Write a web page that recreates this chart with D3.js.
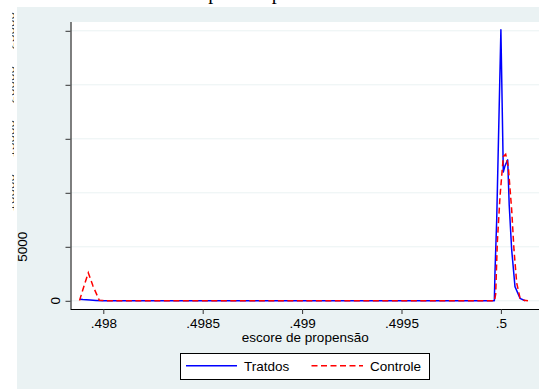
<!DOCTYPE html>
<html>
<head>
<meta charset="utf-8">
<script src="https://cdn.jsdelivr.net/npm/d3@7"></script>
<style>
  html, body { margin: 0; padding: 0; background: #ffffff; }
  svg { display: block; }
  text { font-family: "Liberation Sans", Arial, sans-serif; fill: #000; }
</style>
</head>
<body>
<svg id="chart" width="539" height="389"></svg>
<script>
// Kernel density of the propensity score, treated vs. control
const chartTitle = "Depois do pareamento";
const xLabel = "escore de propensão";
const seriesNames = ["Tratdos", "Controle"];

const xTicks = [0.498, 0.4985, 0.499, 0.4995, 0.5];
const xTickLabels = [".498", ".4985", ".499", ".4995", ".5"];
const yTicks = [0, 5000, 10000, 15000, 20000, 25000];
const yTickLabels = ["0", "5000", "10000", "15000", "20000", "25000"];

// Tratdos (treated) density
const tratX = [0.4978828, 0.4978971, 0.4979331, 0.4979633, 0.4979985, 0.4980438,
               0.4999670, 0.4999703, 0.4999789, 0.5000000, 0.5000121, 0.5000207,
               0.5000342, 0.5000418, 0.5000543, 0.5000709, 0.5000961, 0.5001212];
const tratY = [140, 110, 65, 37, 9, 0,
               0, 2670, 7490, 25100, 11930, 12490,
               13050, 8880, 4710, 1310, 230, 9];

// Controle (control) density
const ctrlX = [0.4978803, 0.4979029, 0.4979245, 0.4979482, 0.4979799, 0.4980136,
               0.4999680, 0.4999738, 0.4999819, 0.4999955, 0.5000121, 0.5000241,
               0.5000372, 0.5000543, 0.5000659, 0.5000795, 0.5000961, 0.5001162, 0.5001363];
const ctrlY = [20, 1370, 2600, 1370, 46, 0,
               0, 630, 5360, 9650, 13350, 13570,
               12430, 8410, 4710, 1650, 260, 46, 0];

const W = 539, H = 389;
const svg = d3.select("#chart");

// graph region background
svg.append("rect").attr("x", 0).attr("y", 0).attr("width", W).attr("height", H).attr("fill", "#ffffff");
svg.append("rect").attr("x", 17).attr("y", 7).attr("width", W - 17).attr("height", H - 7).attr("fill", "#eaf2f3");

// title (sits mostly above the visible area)
svg.append("text")
  .attr("x", 275).attr("y", -1)
  .attr("text-anchor", "middle")
  .style("font-family", "'Liberation Serif', 'Times New Roman', serif")
  .style("font-size", "20px")
  .text(chartTitle);

const plot = { left: 70.5, right: 540, top: 22, bottom: 309 };

const x = d3.scaleLinear().domain([0.497835, 0.5001967]).range([plot.left, plot.right]);
const y = d3.scaleLinear().domain([0, 25000]).range([300.8, 30.8]);

// plot region
svg.append("rect")
  .attr("x", plot.left).attr("y", plot.top)
  .attr("width", plot.right - plot.left).attr("height", plot.bottom - plot.top)
  .attr("fill", "#ffffff");

// horizontal grid lines
svg.append("g").selectAll("line").data(yTicks).join("line")
  .attr("x1", plot.left).attr("x2", plot.right)
  .attr("y1", d => y(d)).attr("y2", d => y(d))
  .attr("stroke", "#eaf2f3").attr("stroke-width", 1);

const clipId = "plotClip";
svg.append("clipPath").attr("id", clipId)
  .append("rect").attr("x", plot.left).attr("y", plot.top)
  .attr("width", plot.right - plot.left).attr("height", plot.bottom - plot.top);

const line = d3.line().x(d => x(d[0])).y(d => y(d[1])).curve(d3.curveLinear);

const tratPts = tratX.map((v, i) => [v, tratY[i]]);
const ctrlPts = ctrlX.map((v, i) => [v, ctrlY[i]]);

const lines = svg.append("g").attr("clip-path", `url(#${clipId})`);
lines.append("path").datum(tratPts)
  .attr("d", line).attr("fill", "none")
  .attr("stroke", "#0000ff").attr("stroke-width", 1.5)
  .attr("stroke-linejoin", "round");
lines.append("path").datum(ctrlPts)
  .attr("d", line).attr("fill", "none")
  .attr("stroke", "#ff0000").attr("stroke-width", 1.5)
  .attr("stroke-dasharray", "6,3.5");

// x axis
const xAxis = d3.axisBottom(x).tickValues(xTicks)
  .tickFormat((d, i) => xTickLabels[i]).tickSize(5).tickPadding(4);
const gx = svg.append("g").attr("transform", `translate(0,${plot.bottom})`).call(xAxis);
gx.select(".domain").attr("d", `M${plot.left},0.5H${plot.right}`).attr("stroke", "#000");
gx.selectAll(".tick line").attr("stroke", "#333");
gx.selectAll(".tick text")
  .style("font-family", "'Liberation Sans', Arial, sans-serif")
  .style("font-size", "13.5px").attr("fill", "#000");

// y axis
const yAxis = d3.axisLeft(y).tickValues(yTicks).tickFormat("").tickSize(5);
const gy = svg.append("g").attr("transform", `translate(${plot.left},0)`).call(yAxis);
gy.select(".domain").attr("d", `M0.5,${plot.top}V${plot.bottom}`).attr("stroke", "#000");
gy.selectAll(".tick line").attr("stroke", "#333");

// y tick labels, rotated; the longer labels run out past the left edge
svg.append("clipPath").attr("id", "edgeClip")
  .append("rect").attr("x", 12.4).attr("y", 0).attr("width", 1.4).attr("height", H);

const baseX = { "0": 59.5, "5000": 26.5 };
yTicks.forEach((t, i) => {
  const lab = yTickLabels[i];
  const bx = baseX[lab] !== undefined ? baseX[lab] : 14.6;
  const txt = svg.append("text")
    .attr("transform", `translate(${bx},${y(t)}) rotate(-90)`)
    .attr("text-anchor", "middle")
    .style("font-size", "13.5px")
    .text(lab);
  if (baseX[lab] === undefined) {
    txt.attr("clip-path", null);
    const g = svg.append("g").attr("clip-path", "url(#edgeClip)");
    g.node().appendChild(txt.node());
  }
});

// x axis title
svg.append("text")
  .attr("x", (plot.left + plot.right) / 2).attr("y", 342)
  .attr("text-anchor", "middle")
  .style("font-size", "13.5px")
  .text(xLabel);

// legend
const legend = svg.append("g");
legend.append("rect")
  .attr("x", 180.5).attr("y", 353.5).attr("width", 249).attr("height", 26)
  .attr("fill", "#ffffff").attr("stroke", "#000").attr("stroke-width", 1);
legend.append("line")
  .attr("x1", 186).attr("x2", 237).attr("y1", 365.7).attr("y2", 365.7)
  .attr("stroke", "#0000ff").attr("stroke-width", 1.5);
legend.append("text").attr("x", 244).attr("y", 370.7)
  .style("font-size", "13.5px").text(seriesNames[0]);
legend.append("line")
  .attr("x1", 311.5).attr("x2", 363).attr("y1", 365.7).attr("y2", 365.7)
  .attr("stroke", "#ff0000").attr("stroke-width", 1.5)
  .attr("stroke-dasharray", "6,3.5");
legend.append("text").attr("x", 370).attr("y", 370.7)
  .style("font-size", "13.5px").text(seriesNames[1]);
</script>
</body>
</html>
